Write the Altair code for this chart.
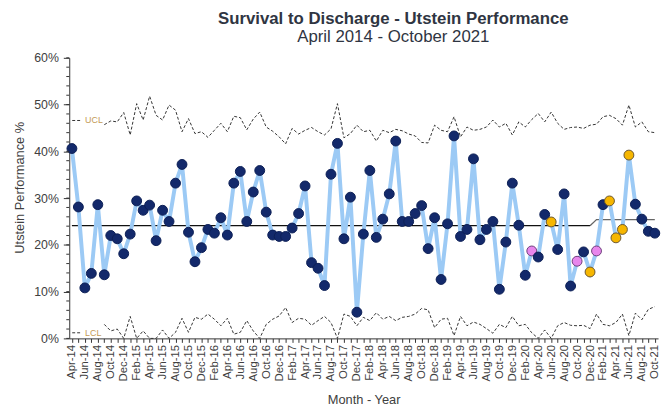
import altair as alt
import pandas as pd

# ---------------- data ----------------
months = pd.date_range("2014-04-01", "2021-10-01", freq="MS").strftime("%b-%y").tolist()

performance = [
    40.6, 28.1, 10.8, 13.9, 28.6, 13.6, 22.0, 21.3, 18.1,
    22.3, 29.4, 27.4, 28.5, 20.9, 27.4, 25.0, 33.2, 37.2, 22.7, 16.4, 19.4,
    23.3, 22.5, 25.8, 22.1, 33.2, 35.7, 25.0, 31.3, 35.9, 27.0, 22.1, 21.8,
    21.8, 23.6, 26.7, 32.6, 16.2, 15.0, 11.3, 35.1, 41.7, 21.3, 30.2, 5.6,
    22.3, 35.9, 21.6, 25.5, 30.9, 42.2, 25.0, 25.0, 26.7, 28.4, 19.2, 25.8,
    12.6, 24.5, 43.3, 21.8, 23.3, 38.4, 21.1, 23.3, 25.0, 10.5, 20.6, 33.2,
    24.2, 13.5, 18.7, 17.4, 26.5, 24.9, 19.0, 30.9, 11.2, 16.5, 18.5, 14.2,
    18.7, 28.6, 29.4, 21.5, 23.3, 39.2, 28.7, 25.5, 22.9, 22.5,
]

ucl = [None, None, None, None, None,
    45.7, 46.5, 46.3, 48.3, 43.5, 50.2, 46.7, 51.8, 47.7, 46.7,
    49.9, 48.8, 44.2, 47.0, 43.8, 44.2, 43.0, 44.5, 46.0, 44.2,
    47.5, 47.2, 44.6, 46.9, 48.4, 45.2, 44.3, 43.1, 41.6, 44.9,
    43.7, 44.5, 45.1, 44.2, 43.5, 44.8, 50.2, 42.9, 43.8, 45.6,
    44.2, 44.5, 42.2, 44.5, 44.0, 44.7, 44.4, 43.7, 43.3, 41.9,
    41.8, 45.6, 44.5, 44.2, 47.4, 43.1, 45.2, 44.5, 44.7, 45.2,
    46.7, 45.2, 46.0, 43.5, 46.3, 45.2, 46.8, 48.1, 46.3, 48.4,
    46.0, 44.7, 45.1, 45.2, 44.9, 45.6, 45.8, 47.4, 47.7, 47.0,
    45.6, 49.9, 45.2, 46.3, 44.2, 44.0,
]

lcl = [None, None, None, None, None,
    3.0, 1.6, 2.0, 0.0, 4.7, 0.0, 1.6, 0.0, 0.0, 1.8,
    0.0, 1.3, 4.3, 1.3, 4.5, 4.1, 5.2, 4.1, 2.7, 4.3,
    0.9, 1.3, 3.8, 1.6, 0.0, 3.0, 4.1, 4.8, 6.6, 3.4,
    4.3, 4.1, 2.8, 3.8, 4.7, 3.4, 0.0, 5.2, 4.7, 2.7,
    4.5, 3.8, 5.5, 4.1, 4.7, 3.8, 4.5, 4.7, 5.2, 6.4,
    6.1, 2.3, 4.1, 4.3, 0.6, 4.7, 2.7, 3.5, 3.0, 2.1,
    1.1, 3.0, 2.3, 4.7, 2.7, 3.0, 1.2, 0.0, 1.8, 0.0,
    2.7, 3.4, 2.8, 2.7, 2.8, 2.1, 5.2, 3.0, 2.7, 3.4,
    5.2, 0.6, 5.4, 4.0, 6.2, 6.8,
]

median_before = 24.1
median_after = 25.4
median_change = "Jan-21"

pink_months = ["Mar-20", "Oct-20", "Jan-21"]
yellow_months = ["Jun-20", "Dec-20", "Mar-21", "Apr-21", "May-21", "Jun-21"]

y_ticks = [0, 10, 20, 30, 40, 50, 60]
y_minor = list(range(0, 61, 2))

assert len(months) == len(performance) == len(ucl) == len(lcl) == 91

# ---------------- tables ----------------
idx = list(range(len(months)))
change_i = months.index(median_change)
kind = ["pink" if m in pink_months else "yellow" if m in yellow_months else "normal" for m in months]
center = [median_before if i < change_i else median_after for i in idx]
df = pd.DataFrame({"idx": idx, "month": months, "value": performance,
                   "ucl": ucl, "lcl": lcl, "kind": kind, "center": center})
center_a = df[df.idx < change_i]
center_b = df[df.idx >= change_i - 1]

minor_df = pd.DataFrame({"v": y_minor})

label_list = [m if i % 2 == 0 else "" for i, m in enumerate(months)]
label_expr = "[" + ",".join("'" + s + "'" for s in label_list) + "][datum.value]"

xscale = alt.Scale(domain=[-0.41, 90.5], nice=False, zero=False)
yscale = alt.Scale(domain=[0, 60], nice=False)

x_axis = alt.Axis(values=idx, labelExpr=label_expr, labelAngle=-90, labelOverlap=False,
                  labelFlush=False, labelBound=False, tickSize=4, labelPadding=2,
                  domainColor="#333333", tickColor="#333333", labelColor="#404040",
                  labelFontSize=11.5, grid=False, title="Month - Year", titleFontSize=13,
                  titleFontWeight="normal", titleColor="#404040", titleY=62,
                  titleBaseline="middle")
y_axis = alt.Axis(values=y_ticks, labelExpr="datum.value + '%'", tickSize=6,
                  labelPadding=5, domainColor="#333333", tickColor="#333333",
                  labelColor="#404040", labelFontSize=12.5, grid=False,
                  title="Utstein Performance %", titleFontSize=13,
                  titleFontWeight="normal", titleColor="#404040", titleX=-50,
                  titleY=131, titleAngle=-90, titleAlign="center",
                  titleBaseline="middle")

X0 = alt.X("idx:Q", scale=xscale, axis=x_axis)


def Y0(f):
    return alt.Y(f, type="quantitative", scale=yscale, axis=y_axis)


base = alt.Chart(df)

ucl_line = base.mark_line(color="#333333", strokeWidth=1, strokeDash=[3, 2]).encode(
    x=X0, y=Y0("ucl"))
lcl_line = base.mark_line(color="#333333", strokeWidth=1, strokeDash=[3, 2]).encode(
    x=X0, y=Y0("lcl"))

center_line_a = alt.Chart(center_a).mark_line(color="#111111", strokeWidth=1.3).encode(
    x=X0, y=Y0("center"))
center_line_b = alt.Chart(center_b).mark_line(color="#666666", strokeWidth=1.3).encode(
    x=X0, y=Y0("center"))

value_line = base.mark_line(color="#9ccaf5", strokeWidth=4).encode(x=X0, y=Y0("value"))

points = base.mark_point(filled=True, size=100, opacity=1, strokeWidth=1).encode(
    x=X0, y=Y0("value"),
    fill=alt.Fill("kind:N", scale=alt.Scale(domain=["normal", "pink", "yellow"],
                                            range=["#13296b", "#e886ec", "#f6b600"]), legend=None),
    stroke=alt.Stroke("kind:N", scale=alt.Scale(domain=["normal", "pink", "yellow"],
                                                range=["#0d1f55", "#6b3f7a", "#6a5530"]), legend=None),
)

minor_ticks = alt.Chart(minor_df).mark_rule(color="#333333", strokeWidth=1).encode(
    y=Y0("v"), x=alt.value(-3), x2=alt.value(0))

ucl_lab_df = pd.DataFrame({"v": [46.6], "t": ["UCL"]})
lcl_lab_df = pd.DataFrame({"v": [1.2], "t": ["LCL"]})


def label_layers(d):
    dash = alt.Chart(d).mark_rule(color="#333333", strokeWidth=1, strokeDash=[3, 2]).encode(
        y=Y0("v"), x=alt.value(3), x2=alt.value(11))
    txt = alt.Chart(d).mark_text(align="left", baseline="middle", fontSize=9,
                                 color="#c39a55").encode(
        y=Y0("v"), x=alt.value(16), text="t:N")
    return dash + txt


title_df = pd.DataFrame({"t": ["Survival to Discharge - Utstein Performance"]})
sub_df = pd.DataFrame({"t": ["April 2014 - October 2021"]})
title_txt = alt.Chart(title_df).mark_text(fontSize=17, fontWeight="bold", color="#2f3542",
                                          align="center", baseline="alphabetic").encode(
    x=alt.value(328), y=alt.value(-34), text="t:N")
sub_txt = alt.Chart(sub_df).mark_text(fontSize=17, color="#2f3542",
                                      align="center", baseline="alphabetic").encode(
    x=alt.value(328), y=alt.value(-16), text="t:N")

chart = alt.layer(
    ucl_line, lcl_line, center_line_a, center_line_b, value_line, points,
    minor_ticks, label_layers(ucl_lab_df), label_layers(lcl_lab_df),
    title_txt, sub_txt,
).properties(
    width=596, height=284,
    autosize=alt.AutoSizeParams(type="none"),
    padding={"left": 62, "top": 48, "right": 4, "bottom": 66},
).configure(
    font="Liberation Sans",
    background="white",
).configure_view(stroke=None)

chart.save("out.html", embed_options={"renderer": "svg", "actions": False})
